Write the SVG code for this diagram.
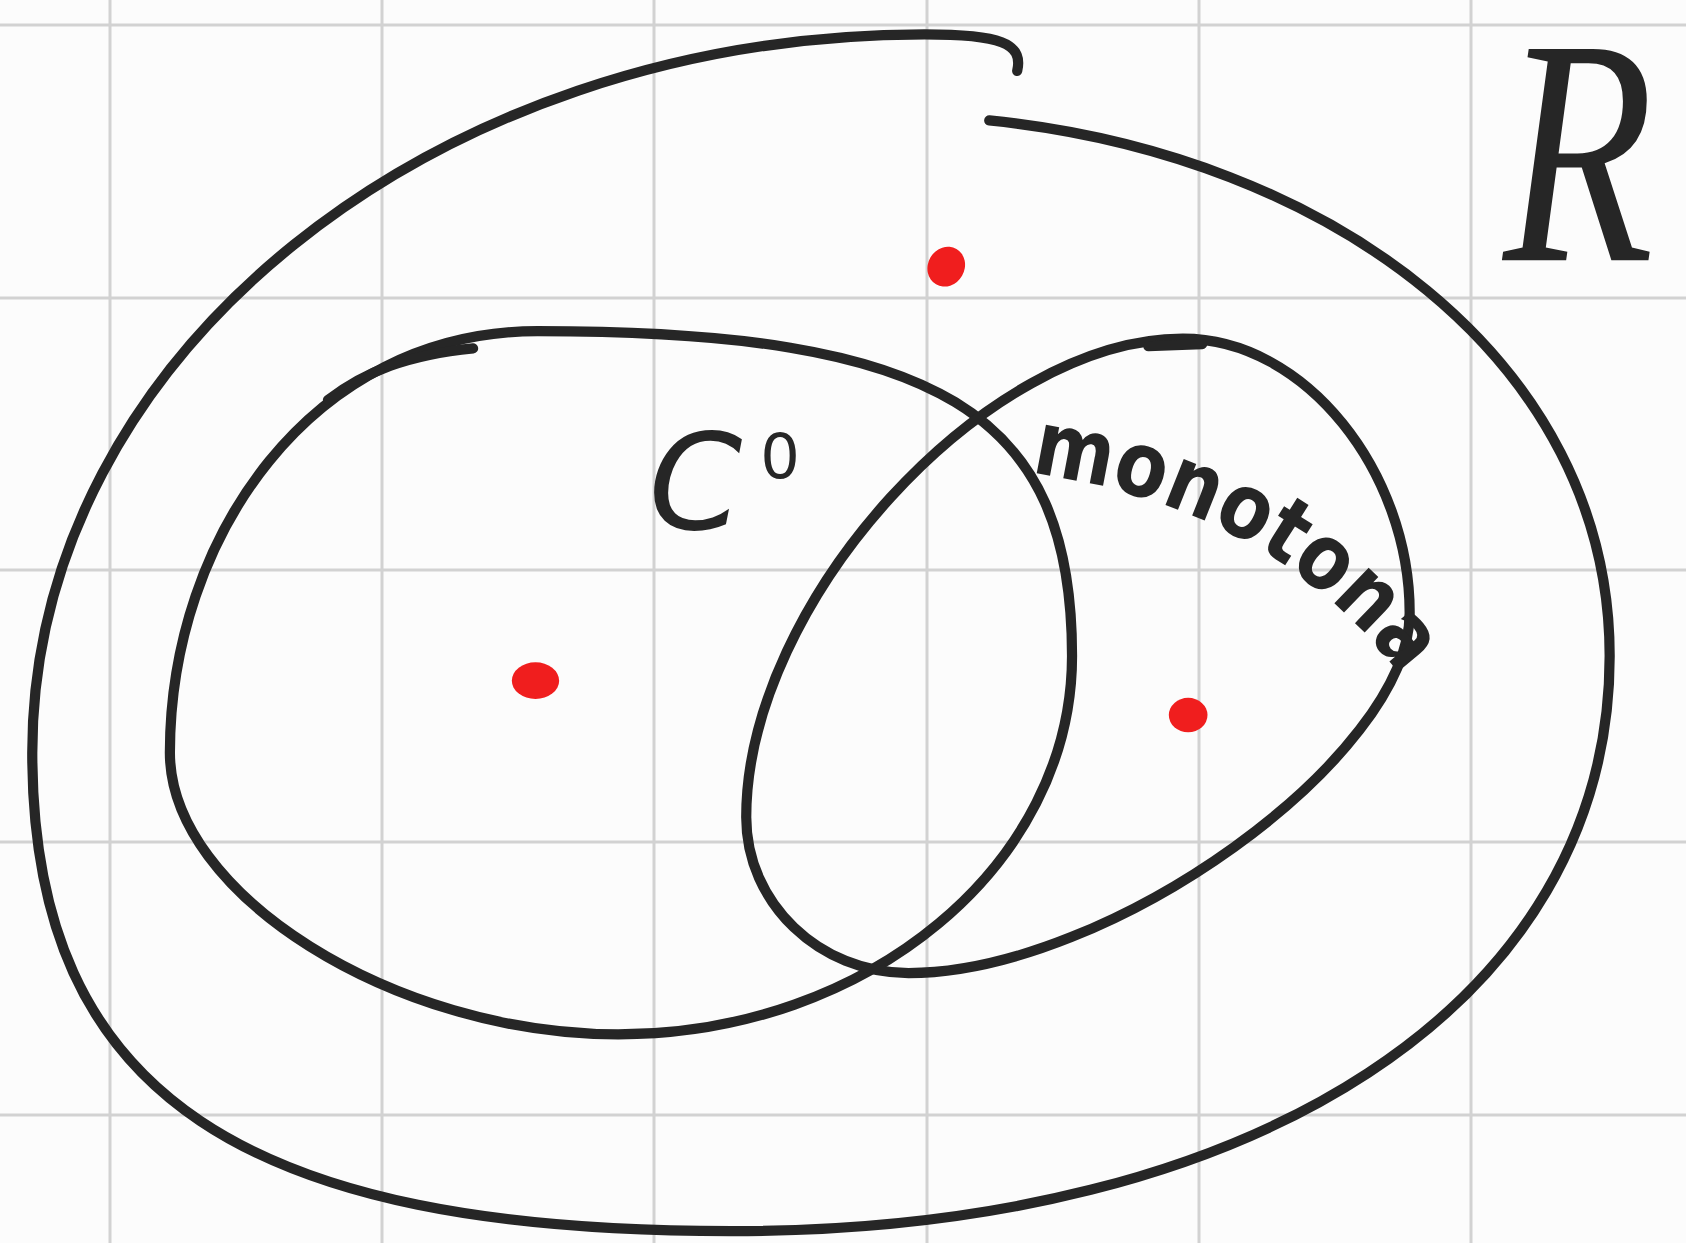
<svg xmlns="http://www.w3.org/2000/svg" width="1686" height="1243" viewBox="0 0 1686 1243">
<style>
.grid{stroke:#d2d2d2;stroke-width:3;fill:none}
.ink{stroke:#262626;stroke-width:9.5;fill:none;stroke-linecap:round;stroke-linejoin:round}
.dot{fill:#f01e1e}
.hand{fill:#262626;font-family:"DejaVu Sans","Liberation Sans",sans-serif}
</style>
<rect width="1686" height="1243" fill="#fcfcfc"/>
<g id="grid" class="grid">
<line x1="110" y1="0" x2="110" y2="1243"/><line x1="382" y1="0" x2="382" y2="1243"/><line x1="654" y1="0" x2="654" y2="1243"/><line x1="927" y1="0" x2="927" y2="1243"/><line x1="1199" y1="0" x2="1199" y2="1243"/><line x1="1471" y1="0" x2="1471" y2="1243"/>
<line x1="0" y1="25" x2="1686" y2="25"/><line x1="0" y1="298" x2="1686" y2="298"/><line x1="0" y1="570" x2="1686" y2="570"/><line x1="0" y1="842" x2="1686" y2="842"/><line x1="0" y1="1115" x2="1686" y2="1115"/>
</g>
<g transform="scale(1.07526)">
<g id="set-R">
<path class="ink" d="M 946 66 C 952 40, 930 32, 860 32 C 402 32, 30 331, 30 700 C 30 1020, 230 1145, 680 1145 C 1170 1145, 1497 931, 1497 610 C 1497 336, 1237 144, 920 112"/>
<text class="hand" x="1398" y="242" font-size="300" textLength="140" lengthAdjust="spacingAndGlyphs" style="font-family:'Liberation Serif',serif;font-style:italic">R</text>
</g>
<g id="set-C0">
<path class="ink" d="M 500 308 C 873 308, 997 383.5, 997 610 C 997 804, 807 962, 575 962 C 366 962, 158 831, 158 700 C 158 500, 290 308, 500 308 Z"/>
<path class="ink" d="M 305 372 C 340 345, 380 330, 440 324"/>
<text class="hand" x="603" y="492" font-size="125" font-style="italic">C</text>
<text class="hand" x="707" y="445" font-size="58">0</text>
</g>
<g id="set-monotona">
<path class="ink" d="M 1100 315 C 1215 315, 1311 440, 1311 570 C 1311 704, 1031 905, 845 905 C 762 905, 694 840, 694 760 C 694 560, 917 315, 1100 315 Z"/>
<path class="ink" d="M 1068 322 L 1118 320"/>
<path id="lblpath" d="M 958 440 Q 1180 470 1300 625" fill="none"/>
<text class="hand" font-size="84" font-weight="bold"><textPath href="#lblpath" textLength="405" lengthAdjust="spacingAndGlyphs">monotona</textPath></text>
</g>
<g id="points">
<ellipse class="dot" cx="880" cy="248" rx="17" ry="19" transform="rotate(30 880 248)"/>
<ellipse class="dot" cx="498" cy="633" rx="22" ry="17"/>
<ellipse class="dot" cx="1105" cy="665" rx="18" ry="16"/>
</g>
</g>
</svg>
